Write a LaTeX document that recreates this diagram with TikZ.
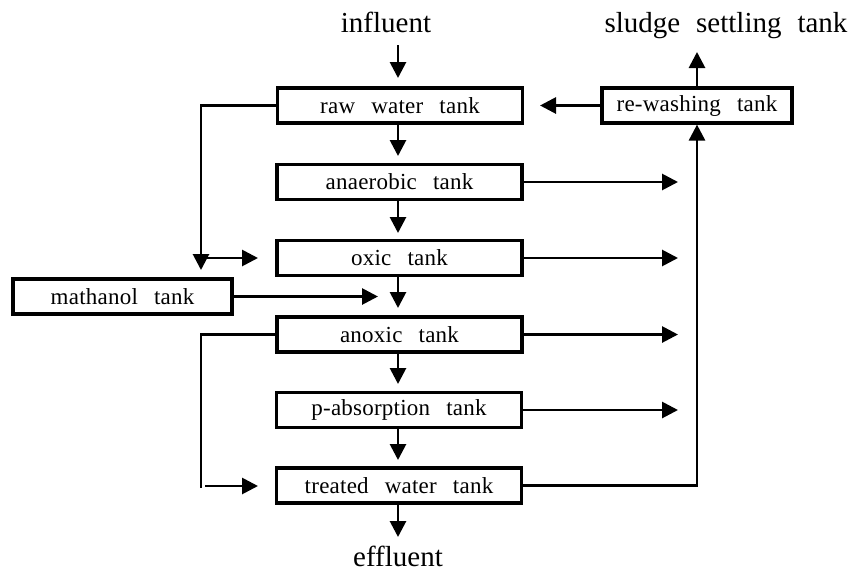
\documentclass[tikz,border=0pt]{standalone}
\usepackage{fontspec}
\setmainfont{Liberation Serif}
\newfontfamily\boxfont{Liberation Serif}[WordSpace=2.7,LetterSpace=1]
\newfontfamily\titlefont{Liberation Serif}[WordSpace=2.2]
\usetikzlibrary{arrows.meta}
\begin{document}
\begin{tikzpicture}[x=1pt,y=-1pt,
  tank/.style={draw,line width=3.2pt,minimum width=245pt,minimum height=35pt,inner sep=0pt,
    font=\boxfont\fontsize{23}{25}\selectfont},
  ttl/.style={anchor=base,inner sep=0pt,font=\titlefont\fontsize{29}{32}\selectfont},
  flow/.style={line width=2.8pt,-{Triangle[length=16pt,width=16pt]}},
  conn/.style={line width=2.8pt}]
\path[use as bounding box] (0,0) rectangle (850,576);
% titles
\node[ttl] (inf) at (386,32) {influent};
\node[ttl] (sludge) at (726,32) {sludge settling tank};
\node[ttl] (eff) at (398,566) {effluent};
% tanks
\node[tank] (raw) at (400,105.5) {raw water tank};
\node[tank] (anae) at (399.5,182) {anaerobic tank};
\node[tank] (oxic) at (399.5,258) {oxic tank};
\node[tank] (anox) at (399.5,334.5) {anoxic tank};
\node[tank] (pabs) at (399,410) {p-absorption tank};
\node[tank] (treat) at (399,485.5) {treated water tank};
\node[tank,minimum width=190pt] (rew) at (697,105.5) {re-washing tank};
\node[tank,minimum width=219pt] (meth) at (122.5,296.5) {mathanol tank};
% coordinates
\coordinate (infS) at (398,45);
\coordinate (infT) at (398,78);
\coordinate (t1) at (398,156);
\coordinate (t2) at (398,233);
\coordinate (t3) at (398,308);
\coordinate (t4) at (398,384);
\coordinate (t5) at (398,460);
\coordinate (t6) at (398,537);
\coordinate (sludgeT) at (697,52);
\coordinate (rawT) at (540,105.5);
\coordinate (L1) at (201,105.5);
\coordinate (L1e) at (201,270);
\coordinate (L1h) at (201,258);
\coordinate (oxT) at (258,258);
\coordinate (methT) at (378,296.5);
\coordinate (L2) at (201,334.5);
\coordinate (L2e) at (201,488);
\coordinate (L2h) at (205,486);
\coordinate (trT) at (258,486);
\coordinate (R1) at (678,182);
\coordinate (R2) at (678,258);
\coordinate (R3) at (678,334.5);
\coordinate (R4) at (678,410);
\coordinate (R5) at (697,485.5);
% main column
\draw[flow] (infS) -- (infT);
\draw[flow] (raw.south -| t1) -- (t1);
\draw[flow] (anae.south -| t2) -- (t2);
\draw[flow] (oxic.south -| t3) -- (t3);
\draw[flow] (anox.south -| t4) -- (t4);
\draw[flow] (pabs.south -| t5) -- (t5);
\draw[flow] (treat.south -| t6) -- (t6);
% right side
\draw[flow] (anae.east) -- (R1);
\draw[flow] (oxic.east) -- (R2);
\draw[flow] (anox.east) -- (R3);
\draw[flow] (pabs.east) -- (R4);
\draw[flow] (treat.east) -- (R5) -- (rew.south);
\draw[flow] (rew.west) -- (rawT);
\draw[flow] (rew.north) -- (sludgeT);
% left side
\draw[flow] (raw.west) -- (L1) -- (L1e);
\draw[flow] (L1h) -- (oxT);
\draw[flow] (meth.east) -- (methT);
\draw[conn] (anox.west) -- (L2) -- (L2e);
\draw[flow] (L2h) -- (trT);
\end{tikzpicture}
\end{document}
